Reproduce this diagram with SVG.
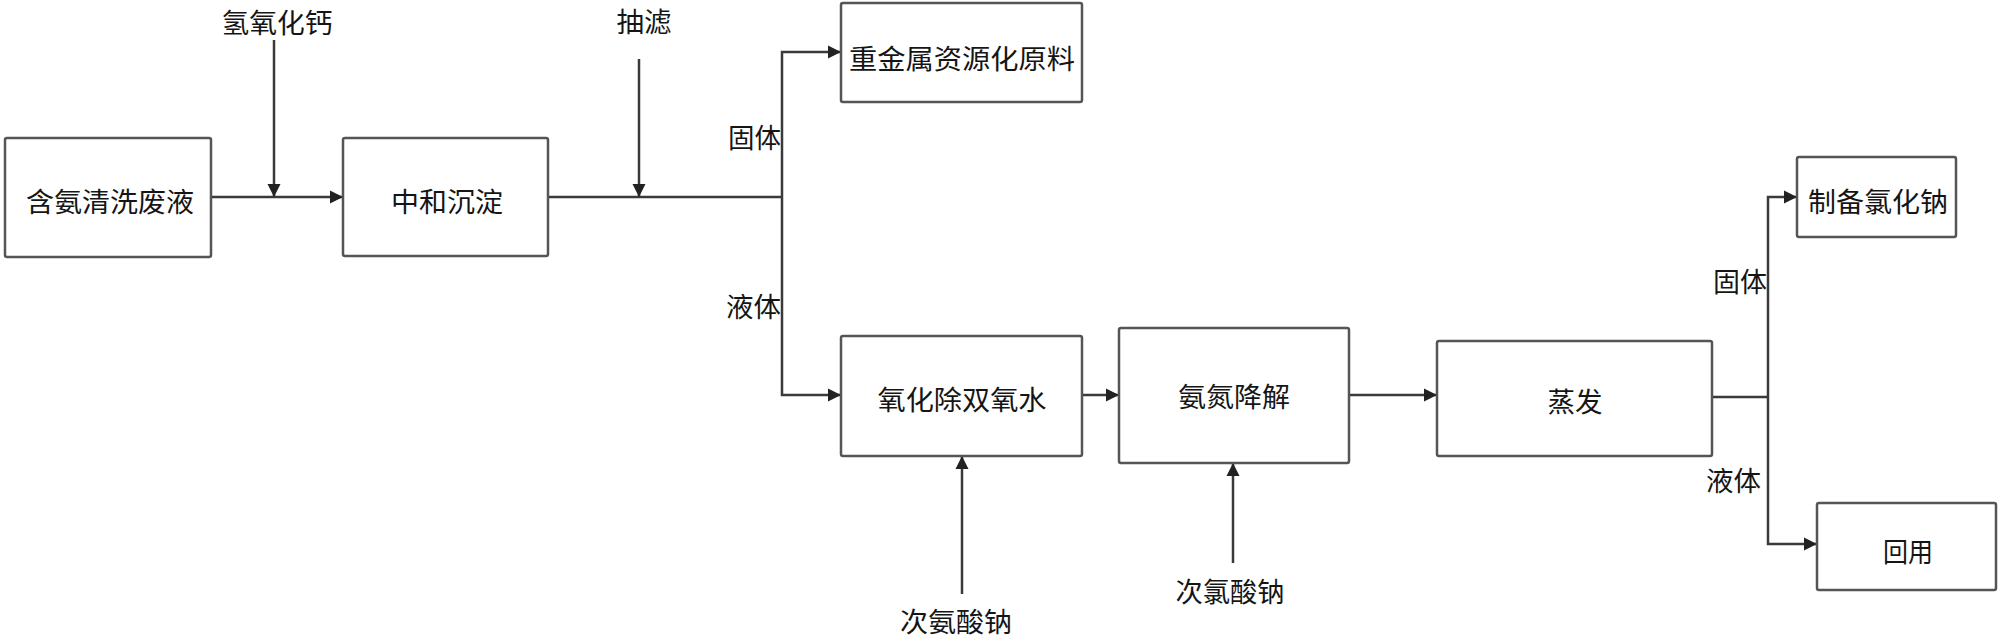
<svg xmlns="http://www.w3.org/2000/svg" width="2000" height="641" viewBox="0 0 2000 641">
<style>
.box{fill:#fff;stroke:#555;stroke-width:2.5}
.t{font-family:"Noto Sans CJK SC","Noto Sans CJK TC",sans-serif;font-size:27px;fill:#151515;dominant-baseline:central}
.c{text-anchor:middle}
.e{text-anchor:end}
.ln{fill:none;stroke:#3a3a3a;stroke-width:2.5}
.ar{fill:none;stroke:#3a3a3a;stroke-width:2.5;marker-end:url(#ah)}
</style>
<defs>
<marker id="ah" markerUnits="userSpaceOnUse" markerWidth="14" markerHeight="14" viewBox="0 0 14 14" refX="13" refY="7" orient="auto">
<path d="M0,0.5 L13,7 L0,13.5 Z" fill="#222"/>
</marker>
</defs>
<rect width="2000" height="641" fill="#fff"/>
<g id="connectors">
<path class="ar" d="M211,197 H343"/>
<path class="ar" d="M274,40 V197"/>
<path class="ln" d="M548,197 H782"/>
<path class="ar" d="M639,59 V197"/>
<path class="ar" d="M782,197 V52 H841"/>
<path class="ar" d="M782,197 V395 H841"/>
<path class="ar" d="M1082,395 H1119"/>
<path class="ar" d="M962,594 V456"/>
<path class="ar" d="M1349,395 H1437"/>
<path class="ar" d="M1233,563 V463"/>
<path class="ln" d="M1712,397 H1768"/>
<path class="ar" d="M1768,397 V197 H1797"/>
<path class="ar" d="M1768,397 V544 H1817"/>
<text class="t c" x="277" y="21" textLength="111" lengthAdjust="spacingAndGlyphs">氢氧化钙</text>
<text class="t c" x="644" y="20" textLength="55" lengthAdjust="spacingAndGlyphs">抽滤</text>
<text class="t e" x="781" y="136" textLength="53" lengthAdjust="spacingAndGlyphs">固体</text>
<text class="t e" x="781" y="305" textLength="55" lengthAdjust="spacingAndGlyphs">液体</text>
<text class="t c" x="956" y="620" textLength="112" lengthAdjust="spacingAndGlyphs">次氨酸钠</text>
<text class="t c" x="1230" y="590" textLength="109" lengthAdjust="spacingAndGlyphs">次氯酸钠</text>
<text class="t e" x="1767" y="280" textLength="54" lengthAdjust="spacingAndGlyphs">固体</text>
<text class="t e" x="1761" y="479" textLength="55" lengthAdjust="spacingAndGlyphs">液体</text>
</g>
<g id="n1"><rect class="box" x="5" y="138" width="206" height="119" rx="2"/><text class="t c" x="110" y="200" textLength="168" lengthAdjust="spacingAndGlyphs">含氨清洗废液</text></g>
<g id="n2"><rect class="box" x="343" y="138" width="205" height="118" rx="2"/><text class="t c" x="447" y="200" textLength="112" lengthAdjust="spacingAndGlyphs">中和沉淀</text></g>
<g id="n3"><rect class="box" x="841" y="3" width="241" height="99" rx="2"/><text class="t c" x="962" y="57" textLength="226" lengthAdjust="spacingAndGlyphs">重金属资源化原料</text></g>
<g id="n4"><rect class="box" x="841" y="336" width="241" height="120" rx="2"/><text class="t c" x="962" y="398" textLength="169" lengthAdjust="spacingAndGlyphs">氧化除双氧水</text></g>
<g id="n5"><rect class="box" x="1119" y="328" width="230" height="135" rx="2"/><text class="t c" x="1234" y="395" textLength="112" lengthAdjust="spacingAndGlyphs">氨氮降解</text></g>
<g id="n6"><rect class="box" x="1437" y="341" width="275" height="115" rx="2"/><text class="t c" x="1575" y="400" textLength="55" lengthAdjust="spacingAndGlyphs">蒸发</text></g>
<g id="n7"><rect class="box" x="1797" y="157" width="159" height="80" rx="2"/><text class="t c" x="1878" y="200" textLength="140" lengthAdjust="spacingAndGlyphs">制备氯化钠</text></g>
<g id="n8"><rect class="box" x="1817" y="503" width="179" height="87" rx="2"/><text class="t c" x="1908" y="550" textLength="50" lengthAdjust="spacingAndGlyphs">回用</text></g>
</svg>
